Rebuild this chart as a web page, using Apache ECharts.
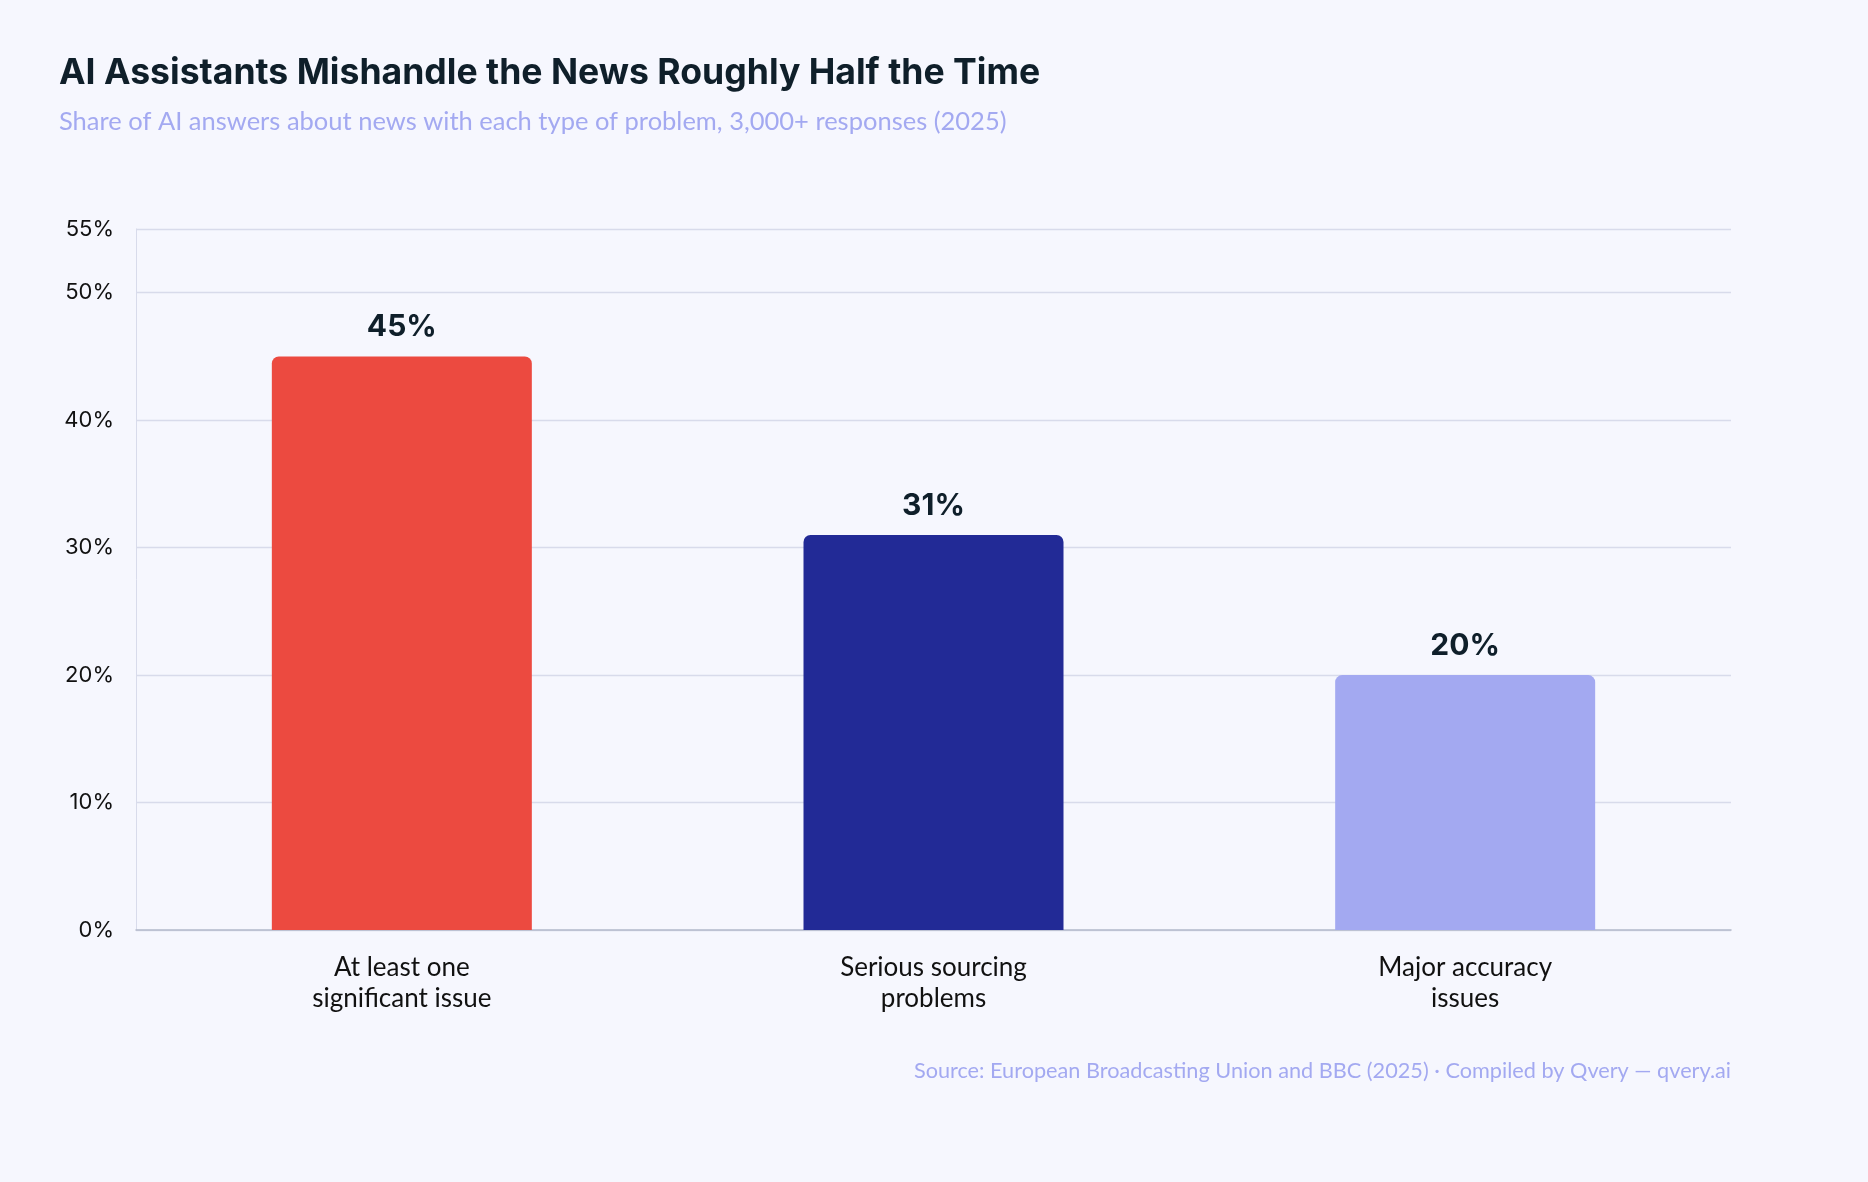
<!DOCTYPE html>
<html>
<head>
<meta charset="utf-8">
<script src="https://cdn.jsdelivr.net/npm/echarts@6/dist/echarts.min.js"></script>
<style>
  html, body { margin: 0; padding: 0; background: #F6F7FE; }
  #chart { width: 1868px; height: 1182px; }
</style>
</head>
<body>
<div id="chart"></div>
<script>
const categories = ['At least one\nsignificant issue', 'Serious sourcing\nproblems', 'Major accuracy\nissues'];
const values = [45, 31, 20];
const colors = ['#EC4A40', '#222A96', '#A3A9F1'];

let chart = echarts.init(document.getElementById('chart'));
let option = {
    backgroundColor: '#F6F7FE',
    title: [
        {
            text: 'AI Assistants Mishandle the News Roughly Half the Time',
            left: 54, top: 50,
            textStyle: { fontFamily: 'Inter', fontWeight: 'bold', fontSize: 35.6, color: '#0F1F2A' }
        },
        {
            text: 'Share of AI answers about news with each type of problem, 3,000+ responses (2025)',
            left: 54, top: 104,
            textStyle: { fontFamily: 'Lato', fontWeight: 'normal', fontSize: 25.5, color: '#A3A9F1' }
        },
        {
            text: 'Source: European Broadcasting Union and BBC (2025) · Compiled by Qvery — qvery.ai',
            right: 132, top: 1055,
            textStyle: { fontFamily: 'Lato', fontWeight: 'normal', fontSize: 21.7, color: '#A3A9F1' }
        }
    ],
    grid: { left: 136, right: 137, top: 229, bottom: 252 },
    xAxis: {
        type: 'category',
        data: categories,
        axisLine: { lineStyle: { color: '#B4BACB', width: 1.5 } },
        axisTick: { show: false },
        axisLabel: { fontFamily: 'Lato', fontSize: 26, color: '#111', lineHeight: 31, margin: 22 }
    },
    yAxis: {
        type: 'value',
        min: 0, max: 55, interval: 10,
        axisLine: { show: true, lineStyle: { color: '#D8DBEB' } },
        splitLine: { lineStyle: { color: '#D8DBEB', width: 1.3 } },
        axisLabel: { formatter: '{value}%', fontFamily: 'Inter', fontSize: 22, color: '#111', margin: 22 }
    },
    series: [{
        type: 'bar',
        barWidth: 260,
        data: values.map((v, i) => ({ value: v, itemStyle: { color: colors[i], borderRadius: [7, 7, 0, 0] } })),
        label: {
            show: true, position: 'top', distance: 14, formatter: '{c}%',
            fontFamily: 'Inter', fontWeight: 'bold', fontSize: 30, color: '#0F1F2A'
        }
    }]
};
chart.setOption(option);
</script>
</body>
</html>
